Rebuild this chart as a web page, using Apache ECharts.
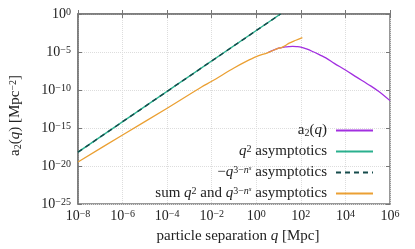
<!DOCTYPE html>
<html><head><meta charset="utf-8">
<script src="https://cdn.jsdelivr.net/npm/echarts@6/dist/echarts.min.js"></script>
<style>html,body{margin:0;padding:0;background:#fff}#c{width:415px;height:249px}</style>
</head><body><div id="c"></div>
<script>
// ---- data: [q in Mpc, a2 in Mpc^-2] ----
const seriesNames = ['a2(q)', 'q2 asymptotics', 'qns asymptotics', 'sum asymptotics'];
const a2Values = [
  [3.2, 7.9e-6], [10, 3.2e-5], [12.6, 3.5e-5], [20, 4.7e-5], [30, 5.2e-5], [43, 5.4e-5],
  [63, 5.1e-5], [100, 4.5e-5], [166, 2.7e-5], [316, 1.26e-5], [776, 3.6e-6], [1318, 1.66e-6],
  [3162, 3.2e-7], [1e4, 4.2e-8], [3.16e4, 5e-9], [1.35e5, 3.5e-10], [3.16e5, 6.3e-11], [1e6, 4e-12]
];
const q2Values = [[1e-8, 6.8e-19], [12.2, 1]];
const qnsValues = [[1e-8, 6.6e-19], [12.3, 1]];
const sumValues = [
  [1e-8, 3.4e-20], [1e-6, 1.2e-16], [1e-4, 4e-13], [3.5e-3, 2.5e-10], [1e-2, 1.4e-9],
  [0.1, 7.9e-8], [0.32, 5e-7], [1, 2.5e-6], [3.2, 7.9e-6], [10, 3.2e-5], [12.6, 3.5e-5],
  [20, 7.1e-5], [30, 1.5e-4], [60, 3.5e-4], [117, 7.9e-4]
];
const xTickExponents = [-8, -6, -4, -2, 0, 2, 4, 6];
const yTickExponents = [-25, -20, -15, -10, -5, 0];

// ---- chart ----
// ECharts 6 log axis rounds 1e-25 to 0, so y is drawn on a linear axis of log10(a2).
const toLogY = arr => arr.map(p => [p[0], Math.log10(p[1])]);
const FONT = 'Liberation Serif';
const C = '#222';
const rich = {
  sup: { fontSize: 10, fontFamily: FONT, lineHeight: 10, verticalAlign: 'top', color: C },
  supi: { fontSize: 10, fontFamily: FONT, fontStyle: 'italic', lineHeight: 10, verticalAlign: 'top', color: C },
  subsup: { fontSize: 7, fontFamily: FONT, fontStyle: 'italic', lineHeight: 13, verticalAlign: 'top', color: C },
  sub: { fontSize: 10, fontFamily: FONT, lineHeight: 10, verticalAlign: 'bottom', color: C },
  i: { fontSize: 15, fontFamily: FONT, fontStyle: 'italic', color: C }
};
const tickRich = {
  sup: { fontSize: 10, fontFamily: FONT, lineHeight: 10, verticalAlign: 'top', color: C }
};
const supText = e => '10{sup|' + String(e).replace('-', '−') + '}';
const legendText = {
  'a2(q)': 'a{sub|2}({i|q})',
  'q2 asymptotics': '{i|q}{sup|2} asymptotics',
  'qns asymptotics': '−{i|q}{sup|3−}{supi|n}{subsup|s} asymptotics',
  'sum asymptotics': 'sum {i|q}{sup|2} and {i|q}{sup|3−}{supi|n}{subsup|s} asymptotics'
};
const frame = '#777';
const tick = { show: true, inside: true, length: 4, lineStyle: { color: frame, width: 1 } };
const chart = echarts.init(document.getElementById('c'), null, { renderer: 'canvas' });
chart.setOption({
  animation: false,
  backgroundColor: '#fff',
  grid: { left: 76, right: 25, top: 14, bottom: 42, show: true, borderColor: frame, borderWidth: 1.5 },
  legend: {
    orient: 'vertical', right: 41, top: 123, align: 'right', padding: 0,
    itemWidth: 37, itemHeight: 10, itemGap: 6,
    data: seriesNames,
    itemStyle: { opacity: 0 },
    formatter: n => legendText[n],
    textStyle: { fontSize: 15, fontFamily: FONT, color: C, lineHeight: 15, padding: [0, 4, 0, 0], rich: rich }
  },
  xAxis: [{
    type: 'log', logBase: 10, min: 1e-8, max: 1e6, interval: 2,
    name: 'particle separation {i|q} [Mpc]', nameLocation: 'middle', nameGap: 25,
    nameTextStyle: { fontSize: 15, fontFamily: FONT, color: C, padding: [0, 0, 0, 8], rich: rich },
    axisLine: { show: true, lineStyle: { color: frame, width: 1.5 } },
    axisTick: tick,
    axisLabel: { margin: 5, fontSize: 14, fontFamily: FONT, color: C, rich: tickRich,
      formatter: v => { const e = Math.round(Math.log10(v)); return xTickExponents.indexOf(e) >= 0 ? supText(e) : ''; } },
    splitLine: { show: true, lineStyle: { color: '#ddd', type: 'dotted', width: 1 } }
  }, {
    type: 'log', logBase: 10, min: 1e-8, max: 1e6, interval: 2, position: 'top',
    axisLine: { show: false }, axisTick: tick, axisLabel: { show: false }, splitLine: { show: false }
  }],
  yAxis: [{
    type: 'value', min: -25, max: 0, interval: 5,
    name: 'a{sub|2}({i|q}) [Mpc{sup|−2}]', nameLocation: 'middle', nameGap: 55, nameRotate: 90,
    nameTextStyle: { fontSize: 15, fontFamily: FONT, color: C, padding: [0, 13, 0, 0], rich: rich },
    axisLine: { show: true, lineStyle: { color: frame, width: 1.5 } },
    axisTick: tick,
    axisLabel: { margin: 7, fontSize: 14, fontFamily: FONT, color: C, rich: tickRich,
      formatter: v => yTickExponents.indexOf(v) >= 0 ? supText(v) : '' },
    splitLine: { show: true, lineStyle: { color: '#ddd', type: 'dotted', width: 1 } }
  }, {
    type: 'value', min: -25, max: 0, interval: 5, position: 'right',
    axisLine: { show: false }, axisTick: tick, axisLabel: { show: false }, splitLine: { show: false }
  }],
  series: [
    { name: seriesNames[0], type: 'line', data: toLogY(a2Values), showSymbol: false, symbol: 'none', smooth: 0.3,
      lineStyle: { color: '#a22fe0', width: 1.3 }, itemStyle: { color: '#a22fe0' }, z: 3 },
    { name: seriesNames[1], type: 'line', data: toLogY(q2Values), showSymbol: false, symbol: 'none',
      lineStyle: { color: '#2ab08e', width: 1.5 }, itemStyle: { color: '#2ab08e' }, z: 2 },
    { name: seriesNames[2], type: 'line', data: toLogY(qnsValues), showSymbol: false, symbol: 'none',
      lineStyle: { color: '#154b4b', width: 1.5, type: [5, 4] }, itemStyle: { color: '#154b4b' }, z: 3 },
    { name: seriesNames[3], type: 'line', data: toLogY(sumValues), showSymbol: false, symbol: 'none', smooth: 0.3,
      lineStyle: { color: '#eba033', width: 1.3 }, itemStyle: { color: '#eba033' }, z: 4 }
  ]
});
</script></body></html>
